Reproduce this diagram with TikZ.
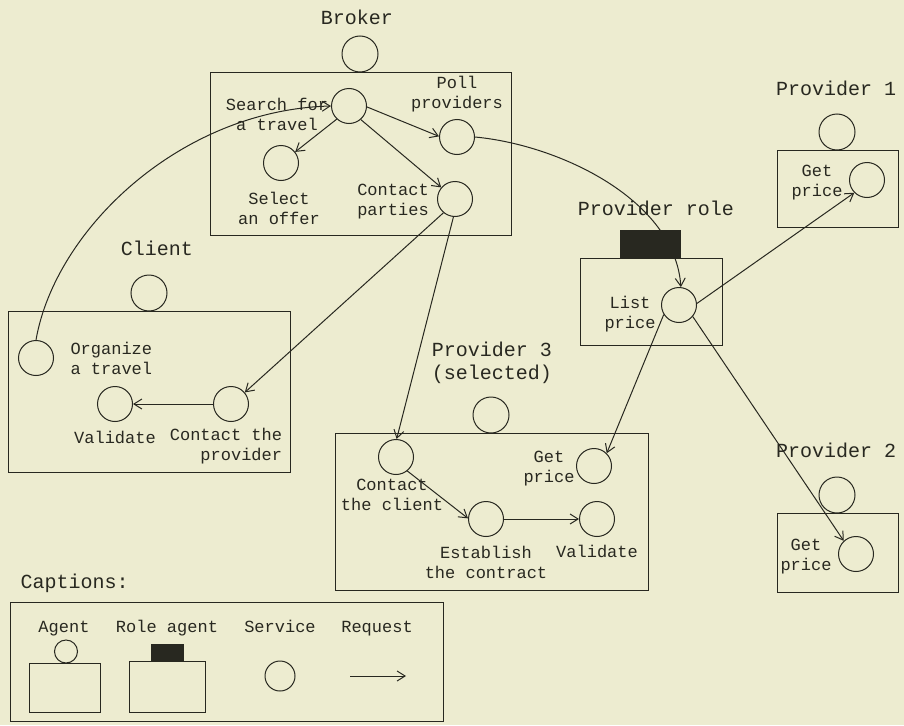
\documentclass[tikz,border=0pt]{standalone}
\usepackage{fontspec}
\setmainfont{Liberation Mono}
\usetikzlibrary{arrows.meta}
\definecolor{paper}{RGB}{237,236,208}
\definecolor{ink}{RGB}{40,40,32}

\begin{document}
\begin{tikzpicture}[x=1pt, y=-1pt, line width=1pt, draw=ink,
    service/.style={draw=ink, circle, minimum size=35pt, inner sep=0pt},
    agent/.style={draw=ink, circle, minimum size=36pt, inner sep=0pt},
    txt/.style={font=\fontsize{17}{20}\selectfont, align=center, inner sep=0pt, text=ink},
    heading/.style={font=\fontsize{20}{23}\selectfont, align=center, inner sep=0pt, text=ink},
    request/.style={draw=ink, -{Straight Barb[length=8pt,width=10pt]}}]
    \fill [paper] (0,0) rectangle (904,725);
    \useasboundingbox (0,0) rectangle (904,725);

    % broker
    \node [heading] (brokername) at (357,17) {Broker};
    \node [agent] (broker) at (360,54) {};
    \draw (210,72) rectangle (511,235);
    \node [service] (search) at (349,106) {};
    \node [service] (poll) at (457,137) {};
    \node [service] (select) at (281,163) {};
    \node [service] (parties) at (455,199) {};
    \node [txt] at (277,114) {Search for\\a travel};
    \node [txt] at (457,94) {Poll\\providers};
    \node [txt] at (279,208) {Select\\an offer};
    \node [txt] at (393,202) {Contact\\parties};

    % client
    \node [heading] (clientname) at (157,248) {Client};
    \node [agent] (client) at (149,293) {};
    \draw (8,311) rectangle (290,472);
    \node [service] (organize) at (36,358) {};
    \node [service] (cvalid) at (115,404) {};
    \node [service] (cprov) at (231,404) {};
    \node [txt, align=left, anchor=west] at (70,358) {Organize\\a travel};
    \node [txt] at (115,437) {Validate};
    \node [txt, align=right] at (226,446) {Contact the\\provider};

    % provider role
    \node [heading] (rolename) at (656,208) {Provider role};
    \fill [ink] (620,230) rectangle (681,258);
    \draw (580,258) rectangle (722,345);
    \node [service] (list) at (679,305) {};
    \node [txt] at (630,314) {List\\price};

    % provider 1
    \node [heading] (prov1name) at (836,88) {Provider 1};
    \node [agent] (prov1) at (837,132) {};
    \draw (777,150) rectangle (898,227);
    \node [service] (get1) at (867,180) {};
    \node [txt] at (817,183) {Get\\price};

    % provider 2
    \node [heading] (prov2name) at (836,450) {Provider 2};
    \node [agent] (prov2) at (837,495) {};
    \draw (777,513) rectangle (898,592);
    \node [service] (get2) at (856,554) {};
    \node [txt] at (806,557) {Get\\price};

    % provider 3
    \node [heading] (prov3name) at (492,363) {Provider 3\\(selected)};
    \node [agent] (prov3) at (491,415) {};
    \draw (335,433) rectangle (648,590);
    \node [service] (cclient) at (396,457) {};
    \node [service] (get3) at (594,466) {};
    \node [service] (establish) at (486,519) {};
    \node [service] (pvalid) at (597,519) {};
    \node [txt] at (392,495) {Contact\\the client};
    \node [txt] at (549,469) {Get\\price};
    \node [txt] at (486,562) {Establish\\the contract};
    \node [txt] at (597,551) {Validate};

    % requests
    \draw [request] (organize.north) .. controls (55,230) and (180,110) .. (search.180);
    \draw [request] (search.-3) -- (poll.178);
    \draw [request] (search.227) -- (select.38);
    \draw [request] (search.311) -- (parties.140);
    \draw [request] (poll.east) .. controls (560,145) and (675,200) .. (list.84);
    \draw [request] (parties.230) -- (cprov.40);
    \draw [request] (parties.265) -- (cclient.88);
    \draw [request] (cprov.west) -- (cvalid.east);
    \draw [request] (list.5) -- (get1.225);
    \draw [request] (list.212) -- (get3.45);
    \draw [request] (list.320) -- (get2.133);
    \draw [request] (cclient.309) -- (establish.178);
    \draw [request] (establish.east) -- (pvalid.west);

    % captions
    \node [heading, anchor=west] (captions) at (20,583) {Captions:};
    \draw (10,602) rectangle (443,721);
    \node [txt, anchor=base] at (64,632) {Agent};
    \node [txt, anchor=base] at (167,632) {Role agent};
    \node [txt, anchor=base] at (280,632) {Service};
    \node [txt, anchor=base] at (377,632) {Request};
    \node [agent, minimum size=23pt] (agentkey) at (66,651.5) {};
    \draw (29,663) rectangle (100,712);
    \fill [ink] (151,644) rectangle (184,661);
    \draw (129,661) rectangle (205,712);
    \node [service, minimum size=30pt] (servicekey) at (280,676) {};
    \coordinate (reqfrom) at (350,676);
    \coordinate (reqto) at (406,676);
    \draw [request] (reqfrom) -- (reqto);
\end{tikzpicture}
\end{document}
